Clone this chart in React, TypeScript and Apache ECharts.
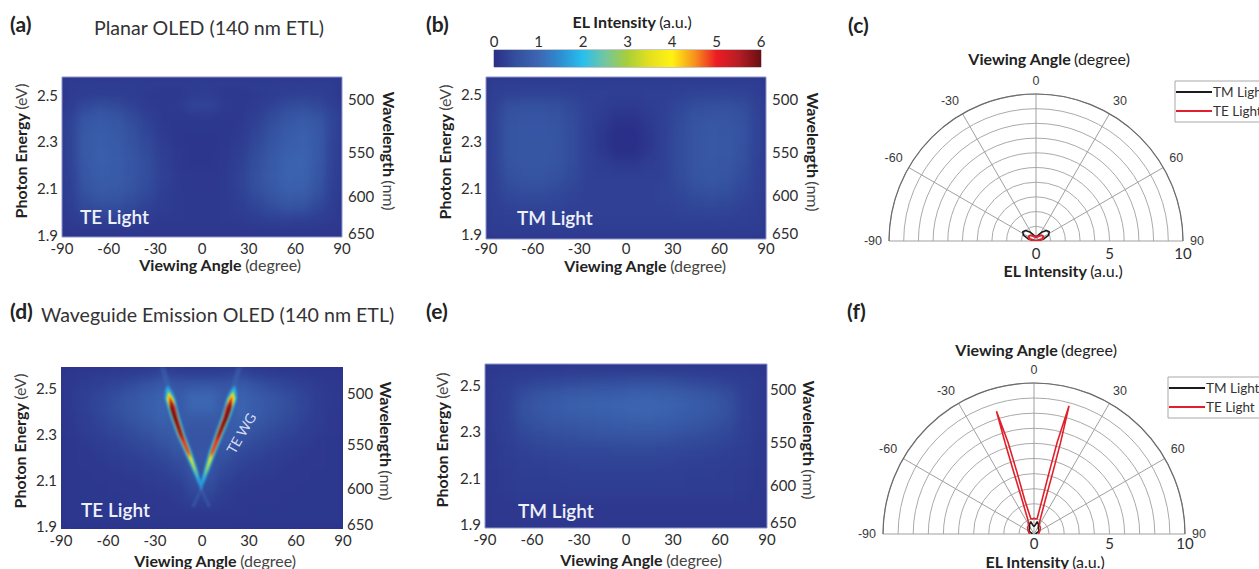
import React, { useEffect, useRef } from "react";
import * as echarts from "echarts";

const ANGLE_TICKS_INTERVAL = 30;
const ENERGY_TICKS = [1.9, 2.1, 2.3, 2.5];
const WAVELENGTHS = [500, 550, 600, 650];
const INTENSITY_TICKS = [0, 5, 10];
const CELL_ANGLES = [-85, -75, -65, -55, -45, -35, -25, -15, -5, 5, 15, 25, 35, 45, 55, 65, 75, 85];
const CELL_ENERGIES = [2.55, 2.5, 2.45, 2.4, 2.35, 2.3, 2.25, 2.2, 2.15, 2.1, 2.05, 2.0, 1.95, 1.9];

const COLOR_STOPS = ["#2a2f88", "#34509f", "#3c66b2", "#2d8fd2", "#29bfee", "#74c6a0", "#a8cf38", "#e5e01f", "#fff212", "#f7941d", "#ed1c24", "#b51d25", "#6a0f12"];

const PLANAR_TE = [
  [.20, .20, .20, .20, .20, .20, .20, .20, .20, .20, .20, .20, .20, .20, .20, .20, .20, .20],
  [.18, .20, .22, .22, .20, .16, .14, .14, .18, .20, .14, .14, .16, .20, .24, .26, .24, .18],
  [.20, .38, .46, .40, .28, .18, .15, .18, .34, .34, .18, .15, .18, .28, .42, .46, .38, .24],
  [.28, .60, .68, .60, .42, .25, .15, .13, .15, .15, .13, .15, .24, .42, .60, .70, .58, .32],
  [.30, .68, .75, .68, .50, .32, .17, .12, .12, .12, .12, .16, .30, .50, .70, .80, .68, .32],
  [.30, .72, .80, .72, .55, .38, .20, .12, .10, .10, .12, .18, .36, .58, .78, .88, .70, .30],
  [.30, .72, .82, .76, .60, .42, .24, .13, .10, .10, .13, .22, .42, .65, .85, .92, .70, .28],
  [.30, .70, .82, .78, .62, .45, .26, .14, .11, .11, .15, .26, .48, .70, .90, .95, .68, .28],
  [.28, .66, .80, .76, .62, .46, .28, .16, .13, .13, .16, .30, .50, .72, .92, .92, .64, .26],
  [.26, .60, .74, .72, .60, .44, .26, .16, .14, .14, .16, .30, .50, .70, .88, .86, .58, .24],
  [.24, .50, .64, .62, .50, .36, .22, .16, .15, .15, .16, .26, .42, .60, .76, .72, .48, .22],
  [.22, .38, .46, .46, .38, .27, .19, .16, .15, .15, .16, .22, .32, .44, .54, .50, .34, .20],
  [.18, .24, .26, .26, .24, .20, .17, .16, .15, .15, .16, .18, .22, .26, .28, .26, .22, .18],
  [.14, .14, .14, .14, .14, .14, .14, .14, .14, .14, .14, .14, .14, .14, .14, .14, .14, .14],
];

const PLANAR_TM = [
  [.22, .22, .22, .22, .22, .22, .22, .22, .22, .22, .22, .22, .22, .22, .22, .22, .22, .22],
  [.24, .28, .30, .30, .30, .28, .26, .24, .22, .22, .24, .26, .28, .30, .32, .32, .30, .24],
  [.28, .48, .52, .52, .48, .40, .28, .22, .18, .18, .22, .28, .36, .46, .50, .50, .46, .28],
  [.30, .56, .60, .60, .56, .44, .28, .18, .08, .08, .18, .28, .42, .56, .60, .60, .52, .30],
  [.30, .58, .62, .62, .58, .46, .28, .14, .02, .02, .14, .28, .44, .58, .66, .64, .54, .30],
  [.30, .58, .64, .64, .60, .46, .28, .12, .00, .00, .12, .28, .46, .60, .68, .66, .54, .30],
  [.30, .58, .64, .64, .60, .46, .28, .14, .02, .02, .14, .28, .46, .60, .68, .66, .52, .30],
  [.30, .56, .62, .62, .58, .46, .28, .22, .14, .14, .22, .28, .46, .60, .66, .64, .50, .28],
  [.28, .50, .58, .58, .54, .42, .28, .26, .24, .24, .26, .28, .44, .58, .64, .60, .46, .28],
  [.28, .44, .50, .50, .44, .36, .28, .28, .28, .28, .28, .30, .40, .52, .56, .52, .40, .28],
  [.26, .36, .40, .40, .36, .30, .28, .28, .28, .28, .28, .30, .34, .42, .46, .42, .34, .26],
  [.24, .28, .30, .30, .30, .28, .28, .28, .28, .28, .28, .28, .30, .32, .34, .32, .28, .24],
  [.22, .24, .26, .26, .26, .26, .26, .26, .26, .26, .26, .26, .26, .26, .26, .26, .24, .22],
  [.20, .20, .20, .20, .20, .20, .20, .20, .20, .20, .20, .20, .20, .20, .20, .20, .20, .20],
];

const WAVEGUIDE_TE = [
  [.12, .14, .16, .18, .20, .24, .34, .24, .22, .22, .26, .34, .22, .18, .16, .14, .12, .12],
  [.15, .20, .26, .32, .42, .55, .70, .60, .62, .62, .60, .72, .52, .40, .32, .24, .18, .14],
  [.15, .24, .34, .46, .62, .78, .90, .75, 1.0, 1.0, .75, .90, .75, .60, .46, .32, .20, .15],
  [.15, .24, .36, .50, .66, .82, .95, .70, 1.0, 1.0, .70, .95, .78, .62, .48, .34, .20, .15],
  [.14, .22, .32, .44, .58, .72, .88, .72, .72, .72, .72, .88, .70, .54, .42, .30, .20, .14],
  [.13, .20, .28, .36, .46, .58, .72, .80, .62, .62, .80, .70, .56, .44, .34, .26, .18, .13],
  [.12, .16, .22, .28, .36, .44, .56, .72, .60, .60, .72, .54, .42, .34, .26, .20, .15, .12],
  [.12, .14, .18, .22, .28, .34, .42, .60, .62, .62, .58, .40, .32, .26, .20, .16, .14, .12],
  [.12, .13, .15, .18, .22, .26, .32, .42, .62, .62, .42, .30, .24, .20, .16, .14, .13, .12],
  [.12, .12, .13, .15, .17, .20, .24, .32, .55, .55, .32, .22, .18, .16, .14, .13, .12, .12],
  [.12, .12, .12, .13, .14, .16, .18, .22, .42, .42, .22, .17, .15, .14, .13, .12, .12, .12],
  [.12, .12, .12, .12, .13, .14, .15, .18, .28, .28, .18, .15, .14, .13, .12, .12, .12, .12],
  [.12, .12, .12, .12, .12, .12, .13, .15, .15, .15, .15, .13, .12, .12, .12, .12, .12, .12],
  [.12, .12, .12, .12, .12, .12, .12, .12, .12, .12, .12, .12, .12, .12, .12, .12, .12, .12],
];

const WAVEGUIDE_TM = [
  [.15, .17, .17, .17, .17, .18, .18, .18, .18, .18, .18, .18, .18, .17, .17, .17, .17, .15],
  [.18, .22, .28, .32, .36, .40, .42, .44, .46, .48, .50, .48, .42, .38, .34, .28, .22, .18],
  [.18, .26, .44, .56, .64, .70, .74, .76, .78, .82, .84, .80, .74, .66, .58, .44, .26, .18],
  [.18, .28, .52, .66, .76, .84, .88, .90, .94, .98, .98, .94, .86, .78, .68, .52, .28, .18],
  [.18, .28, .50, .62, .70, .76, .80, .82, .85, .88, .90, .86, .78, .70, .62, .48, .28, .18],
  [.18, .26, .42, .50, .56, .60, .64, .68, .70, .72, .72, .70, .64, .56, .50, .40, .26, .18],
  [.16, .24, .34, .40, .44, .46, .48, .50, .50, .52, .52, .50, .46, .42, .38, .32, .24, .16],
  [.16, .22, .28, .32, .34, .36, .36, .36, .38, .38, .38, .36, .34, .32, .30, .26, .22, .16],
  [.16, .20, .24, .26, .28, .30, .30, .30, .30, .30, .30, .30, .28, .26, .24, .22, .20, .16],
  [.15, .18, .22, .22, .24, .24, .26, .26, .26, .26, .26, .24, .24, .22, .22, .20, .18, .15],
  [.15, .18, .20, .20, .20, .22, .22, .22, .22, .22, .22, .22, .22, .20, .20, .20, .18, .15],
  [.14, .16, .18, .18, .18, .18, .18, .18, .18, .18, .18, .18, .18, .18, .18, .18, .16, .14],
  [.14, .14, .14, .14, .14, .14, .14, .14, .14, .14, .14, .14, .14, .14, .14, .14, .14, .14],
  [.13, .13, .13, .13, .13, .13, .13, .13, .13, .13, .13, .13, .13, .13, .13, .13, .13, .13],
];

// contour of the TE waveguide arms in panel (d): level, then rows of [energy, angle low, angle high]
const WG_CONTOURS: [number, number[][]][] = [
  [1, [[2.59, -27, -23.5], [2.515, -24, -20], [2.49, -23, -20]]],
  [1, [[2.59, 22, 25.5], [2.515, 19, 22.5], [2.49, 19, 22]]],
  [1, [[2.07, -1.5, .5], [1.99, -7, -4.5]]],
  [1, [[2.07, -1.5, .5], [1.99, 3.5, 6]]],
  [1.5, [[2.515, -22, -22], [2.49, -23.9, -18.9], [2.455, -23.9, -16.9], [2.377, -20.4, -14], [2.299, -16.3, -10.5], [2.228, -11.6, -6.4], [2.15, -6.4, -2.6], [2.076, -1.6, .4], [2.06, -.6, -.6]]],
  [1.5, [[2.515, 20.8, 20.8], [2.49, 17.8, 22.3], [2.455, 15.5, 22.5], [2.377, 12.1, 18.5], [2.299, 7.9, 13.7], [2.228, 4.2, 9.4], [2.15, 1.1, 4.9], [2.076, -1.6, .4], [2.06, -.6, -.6]]],
  [2, [[2.505, -22, -22], [2.455, -23.3, -17.5], [2.377, -19.8, -14.6], [2.299, -15.6, -11.2], [2.228, -10.9, -7.1], [2.15, -5.8, -3.2], [2.085, -1, -1]]],
  [2, [[2.505, 20.6, 20.6], [2.455, 16.1, 21.9], [2.377, 12.7, 17.9], [2.299, 8.6, 13], [2.228, 4.9, 8.7], [2.15, 1.7, 4.3], [2.085, -.4, -.4]]],
  [3, [[2.49, -21.4, -21.4], [2.455, -22.6, -18.2], [2.377, -19.1, -15.3], [2.299, -15.1, -11.7], [2.228, -10.4, -7.6], [2.15, -5.1, -3.9], [2.115, -2.6, -2.6]]],
  [3, [[2.49, 20, 20], [2.455, 16.8, 21.2], [2.377, 13.4, 17.2], [2.299, 9.1, 12.5], [2.228, 5.4, 8.2], [2.15, 2.4, 3.6], [2.115, 1.2, 1.2]]],
  [4, [[2.48, -21.2, -21.2], [2.455, -22.3, -18.5], [2.377, -18.9, -15.5], [2.299, -14.8, -12], [2.228, -10, -8], [2.175, -6.2, -5.4], [2.14, -3.9, -3.9]]],
  [4, [[2.48, 19.6, 19.6], [2.455, 17.1, 20.9], [2.377, 13.6, 17], [2.299, 9.4, 12.2], [2.228, 5.8, 7.8], [2.175, 4, 4.8], [2.14, 2.6, 2.6]]],
  [5, [[2.47, -21, -21], [2.42, -20.6, -17], [2.377, -18.8, -15.6], [2.299, -14.7, -12.1], [2.228, -9.8, -8.2], [2.2, -7.2, -7.2]]],
  [5, [[2.47, 19.4, 19.4], [2.42, 15.4, 19], [2.377, 13.7, 16.9], [2.299, 9.5, 12.1], [2.228, 6, 7.6], [2.2, 5.3, 5.3]]],
  [6, [[2.455, -20.4, -20.4], [2.41, -20.1, -17.9], [2.365, -17.9, -15.7], [2.299, -14, -12.8], [2.27, -11.4, -11.4]]],
  [6, [[2.455, 18.8, 18.8], [2.41, 16.2, 18.4], [2.365, 13.8, 16], [2.299, 10.2, 11.4], [2.27, 9, 9]]],
];

// polar curves: [intensity, angle]
const C_TM = [[0, -90], [.55, -75], [.95, -65], [1.1, -55], [1.0, -45], [.75, -35], [.5, -25], [.35, -15], [.3, 0], [.35, 15], [.5, 25], [.75, 35], [1.0, 45], [1.1, 55], [.95, 65], [.55, 75], [0, 90]];
const C_TE = [[0, -90], [.45, -75], [.6, -60], [.55, -45], [.4, -30], [.3, -15], [.25, 0], [.3, 15], [.4, 30], [.55, 45], [.6, 60], [.45, 75], [0, 90]];
const F_TM = [[.1, -90], [.4, -60], [.45, -40], [.7, -25], [.85, -15], [.6, -8], [.5, 0], [.6, 8], [.85, 15], [.7, 25], [.45, 40], [.4, 60], [.1, 90]];
const F_TE = [[.3, -90], [.35, -75], [.45, -60], [.6, -45], [.65, -35], [.8, -27], [.95, -24], [2.33, -19.3], [4.2, -18.2], [6.3, -17.6], [8.5, -17], [6.3, -15.8], [4.2, -15.4], [2.3, -15.2], [1.05, -11.8], [1.0, -5], [1.05, 0], [1.0, 5], [1.05, 11.5], [2.3, 13.2], [4.2, 13.8], [6.3, 14.2], [8.8, 15.3], [6.3, 16.2], [4.2, 17], [2.3, 18.5], [.95, 24], [.8, 27], [.65, 35], [.6, 45], [.45, 60], [.35, 75], [.3, 90]];

const COLORBAR_RANGE = [[0, 6]];

const SANS = "Lato";
const ARIAL = "Liberation Sans";
const INK = "#2e2e2e";

type Panel = { l: number; r: number; t: number; b: number; yMin: number; yMax: number; table: number[][]; leftGap: number; rightGap: number; xGap: number; xMargin: number; rMargin: number; xShift: number; frame: boolean };
const PANELS: Panel[] = [
  { l: 62, r: 342, t: 77, b: 237, yMin: 1.89, yMax: 2.576, table: PLANAR_TE, leftGap: 34, rightGap: 39, xGap: 19, xMargin: 3, rMargin: 6, xShift: 18, frame: true },
  { l: 486, r: 766, t: 77, b: 239, yMin: 1.88, yMax: 2.575, table: PLANAR_TM, leftGap: 34, rightGap: 39, xGap: 18.5, xMargin: 1, rMargin: 6, xShift: 19, frame: true },
  { l: 61, r: 343, t: 367, b: 529, yMin: 1.896, yMax: 2.591, table: WAVEGUIDE_TE, leftGap: 34, rightGap: 35, xGap: 25, xMargin: 5, rMargin: 4, xShift: 13, frame: false },
  { l: 485, r: 767, t: 364, b: 528, yMin: 1.883, yMax: 2.589, table: WAVEGUIDE_TM, leftGap: 36, rightGap: 34, xGap: 23, xMargin: 3, rMargin: 3, xShift: 15, frame: true },
];

const PAD = 14;

function heatOption(p: Panel) {
  const data: number[][] = [];
  p.table.forEach((row, ri) => row.forEach((v, ci) => data.push([ci, p.table.length - 1 - ri, v])));
  return {
    animation: false,
    backgroundColor: "#2b3389",
    grid: { left: PAD, right: PAD, top: PAD, bottom: PAD },
    xAxis: { type: "category", data: CELL_ANGLES.map(String), show: false },
    yAxis: { type: "category", data: [...CELL_ENERGIES].reverse().map(String), show: false },
    visualMap: { show: false, min: 0, max: 6, inRange: { color: COLOR_STOPS } },
    series: [{ type: "heatmap", data, itemStyle: { borderWidth: 0 } }],
  };
}

function ridgeOption(p: Panel) {
  return {
    animation: false,
    grid: { left: 0, right: 0, top: 0, bottom: 0 },
    xAxis: { type: "value", min: -90, max: 90, show: false },
    yAxis: { type: "value", min: p.yMin, max: p.yMax, show: false },
    series: [{
      type: "custom",
      coordinateSystem: "cartesian2d",
      clip: true,
      data: WG_CONTOURS.map((c, i) => [i, c[0]]),
      renderItem: (params: any, api: any) => {
        const [level, rows] = WG_CONTOURS[params.dataIndex];
        const lowSide = rows.map((r) => api.coord([r[1], r[0]]));
        const highSide = [...rows].reverse().map((r) => api.coord([r[2], r[0]]));
        return {
          type: "polygon",
          shape: { points: [...lowSide, ...highSide] },
          style: { fill: COLOR_STOPS[Math.round(level * 2)], opacity: level === 1 ? 0.5 : 1 },
        };
      },
    }],
  };
}

function mainOption() {
  const grid: any[] = [];
  const xAxis: any[] = [];
  const yAxis: any[] = [];
  const richName = { b: { fontFamily: SANS, fontWeight: "bold", fontSize: 16, color: "#222" }, n: { fontFamily: SANS, fontSize: 16, color: "#444" } };
  const label = { fontFamily: SANS, fontSize: 15, color: INK };
  PANELS.forEach((p, i) => {
    grid.push({ left: p.l, width: p.r - p.l, top: p.t, height: p.b - p.t, show: p.frame, borderColor: "#8f95cc", borderWidth: 1, backgroundColor: "transparent" });
    xAxis.push({
      type: "value", gridIndex: i, min: -90, max: 90, interval: ANGLE_TICKS_INTERVAL,
      axisLine: { show: false }, axisTick: { show: false }, splitLine: { show: false },
      axisLabel: { ...label, margin: p.xMargin },
      name: "{b|Viewing Angle} {n|(degree)}", nameLocation: "middle", nameGap: p.xGap, nameTextStyle: { rich: richName, padding: [0, 0, 0, 2 * p.xShift] },
    });
    yAxis.push({
      type: "value", gridIndex: i, position: "left", min: p.yMin, max: p.yMax,
      axisLine: { show: false }, axisTick: { show: false }, splitLine: { show: false },
      axisLabel: { ...label, margin: 4, customValues: ENERGY_TICKS, formatter: (v: number) => v.toFixed(1) },
      name: "{b|Photon Energy} {n|(eV)}", nameLocation: "middle", nameRotate: 90, nameGap: p.leftGap, nameTextStyle: { rich: richName, padding: [0, 0, 0, 12] },
    });
    yAxis.push({
      type: "value", gridIndex: i, position: "right", min: p.yMin, max: p.yMax,
      axisLine: { show: false }, axisTick: { show: false }, splitLine: { show: false },
      axisLabel: { ...label, margin: p.rMargin, customValues: WAVELENGTHS.map((w) => 1240 / w), formatter: (v: number) => String(Math.round(1240 / v / 10) * 10) },
      name: "{b|Wavelength} {n|(nm)}", nameLocation: "middle", nameRotate: -90, nameGap: p.rightGap, nameTextStyle: { rich: richName, padding: [0, 12, 0, 0] },
    });
  });
  // colour bar
  grid.push({ left: 494, width: 267, top: 50, height: 17, show: true, borderColor: "#8f8f9a", borderWidth: 1, backgroundColor: "transparent" });
  xAxis.push({ type: "value", gridIndex: 4, position: "top", min: 0, max: 6, interval: 1, axisLine: { show: false }, axisTick: { show: false }, splitLine: { show: false }, axisLabel: { ...label, margin: 2 } });
  yAxis.push({ type: "value", gridIndex: 4, min: 0, max: 1, show: false });

  const polarLabel = { fontFamily: ARIAL, fontSize: 12.5, color: "#3a3a3a" };
  const polars = [{ center: [1036, 241], radius: 147 }, { center: [1034, 534], radius: 151 }];
  // radial intensity scale under the half-disc
  polars.forEach((pl, i) => {
    grid.push({ left: pl.center[0], width: pl.radius, top: pl.center[1], height: 1, show: false });
    xAxis.push({
      type: "value", gridIndex: 5 + i, min: 0, max: 10, axisLine: { show: false }, axisTick: { show: false }, splitLine: { show: false },
      axisLabel: { ...label, margin: i === 0 ? 3 : 0, customValues: INTENSITY_TICKS },
    });
    yAxis.push({ type: "value", gridIndex: 5 + i, min: 0, max: 1, show: false });
  });
  const angleAxis = polars.map((_, i) => ({
    type: "value", polarIndex: i, min: -90, max: 90, interval: 30, startAngle: 180, endAngle: 0, clockwise: true,
    axisLine: { show: true, lineStyle: { color: "#6b6b6b", width: 1.2 } }, axisTick: { show: false },
    splitLine: { show: true, lineStyle: { color: "#a0a0a0", width: 1 } },
    axisLabel: { ...polarLabel, margin: 7 },
  }));
  const radiusAxis = polars.map((_, i) => ({
    type: "value", polarIndex: i, min: 0, max: 10, interval: 1,
    axisLine: { show: false }, axisTick: { show: false },
    splitLine: { show: true, lineStyle: { color: "#aaaaaa", width: 1 } },
    axisLabel: { show: false },
  }));
  const polarSeries = (name: string, data: number[][], polarIndex: number, color: string, width: number) => ({
    type: "line", name, coordinateSystem: "polar", polarIndex, data, symbol: "none", lineStyle: { color, width }, itemStyle: { color }, z: name === "TE Light" ? 4 : 3,
  });
  const colorStops = COLOR_STOPS.map((color, i) => ({ offset: i / (COLOR_STOPS.length - 1), color }));

  const text = (t: string, x: number, y: number, style: any) => ({
    type: "text", x, y, rotation: style.rotation || 0, z: 20,
    style: { text: t, fontFamily: SANS, fill: "#222", textVerticalAlign: "middle", textAlign: "left", ...style, rotation: undefined },
  });
  const letter = { fontWeight: "bold", fontSize: 21 };
  const title = { fontSize: 19.6, fill: "#333" };
  const white = { fontWeight: 600, fontSize: 19, fill: "#eef0fa" };
  const rich = { rich: { b: richName.b, n: richName.n }, textAlign: "center" };
  const legendBase = { orient: "vertical", icon: "rect", itemWidth: 36, itemHeight: 2, itemGap: 5, borderColor: "#a8a8a8", borderWidth: 1, padding: [4, 4, 4, 1], backgroundColor: "#fff", textStyle: { fontFamily: SANS, fontSize: 13.5, color: "#333", padding: [0, 0, 0, -4] }, data: ["TM Light", "TE Light"] };

  return {
    animation: false,
    backgroundColor: "transparent",
    grid, xAxis, yAxis,
    polar: polars,
    angleAxis, radiusAxis,
    legend: [
      { ...legendBase, left: 1175, top: 81 },
      { ...legendBase, left: 1168, top: 377 },
    ],
    graphic: { elements: [
      text("(a)", 10, 23, letter), text("(b)", 426, 23, letter), text("(c)", 848, 24, letter),
      text("(d)", 10, 310, letter), text("(e)", 426, 310, letter), text("(f)", 847, 310, letter),
      text("Planar OLED (140 nm ETL)", 94, 27, title),
      text("Waveguide Emission OLED (140 nm ETL)", 41, 314, title),
      text("{b|EL Intensity} {n|(a.u.)}", 632, 21, rich),
      text("{b|Viewing Angle} {n|(degree)}", 1049, 58, rich),
      text("{b|EL Intensity} {n|(a.u.)}", 1063, 270, rich),
      text("{b|Viewing Angle} {n|(degree)}", 1036, 349, rich),
      text("{b|EL Intensity} {n|(a.u.)}", 1045, 561, rich),
      text("TE Light", 80, 216, white), text("TM Light", 517, 217, white),
      text("TE Light", 81, 509, white), text("TM Light", 518, 510, white),
      text("TE WG", 241, 433, { fontSize: 14, fill: "#d6daf2", textAlign: "center", rotation: Math.PI / 3 }),
    ] },
    series: [
      {
        type: "custom", xAxisIndex: 4, yAxisIndex: 8, coordinateSystem: "cartesian2d", data: COLORBAR_RANGE, z: 1,
        renderItem: (_: any, api: any) => {
          const a = api.coord([api.value(0), 0]);
          const b = api.coord([api.value(1), 1]);
          return { type: "rect", shape: { x: a[0], y: b[1], width: b[0] - a[0], height: a[1] - b[1] }, style: { fill: new echarts.graphic.LinearGradient(0, 0, 1, 0, colorStops) } };
        },
      },
      polarSeries("TM Light", C_TM, 0, "#1c1c1c", 1.6),
      polarSeries("TE Light", C_TE, 0, "#e0202a", 2),
      polarSeries("TM Light", F_TM, 1, "#1c1c1c", 1.6),
      polarSeries("TE Light", F_TE, 1, "#e0202a", 1.6),
    ],
  };
}

export default function App() {
  const mainRef = useRef<HTMLDivElement>(null);
  const heatRefs = useRef<(HTMLDivElement | null)[]>([]);
  const ridgeRef = useRef<HTMLDivElement>(null);

  useEffect(() => {
    const charts: echarts.ECharts[] = [];
    PANELS.forEach((p, i) => {
      const c = echarts.init(heatRefs.current[i]!, undefined, { renderer: "svg" });
      c.setOption(heatOption(p));
      charts.push(c);
    });
    const ridge = echarts.init(ridgeRef.current!, undefined, { renderer: "svg" });
    ridge.setOption(ridgeOption(PANELS[2]));
    charts.push(ridge);
    const main = echarts.init(mainRef.current!, undefined, { renderer: "svg" });
    main.setOption(mainOption());
    charts.push(main);
    return () => charts.forEach((c) => c.dispose());
  }, []);

  const d = PANELS[2];
  return (
    <div style={{ position: "fixed", left: 0, top: 0, width: 1259, height: 569, background: "#fff", overflow: "hidden" }}>
      {PANELS.map((p, i) => (
        <div key={i} style={{ position: "absolute", left: p.l, top: p.t, width: p.r - p.l, height: p.b - p.t, overflow: "hidden" }}>
          <div ref={(el) => { heatRefs.current[i] = el; }} style={{ position: "absolute", left: -PAD, top: -PAD, width: p.r - p.l + 2 * PAD, height: p.b - p.t + 2 * PAD, filter: "blur(5px)" }} />
        </div>
      ))}
      <div style={{ position: "absolute", left: d.l, top: d.t, width: d.r - d.l, height: d.b - d.t, overflow: "hidden" }}>
        <div ref={ridgeRef} style={{ width: d.r - d.l, height: d.b - d.t, filter: "blur(1px)" }} />
      </div>
      <div ref={mainRef} style={{ position: "absolute", left: 0, top: 0, width: 1259, height: 569 }} />
    </div>
  );
}
